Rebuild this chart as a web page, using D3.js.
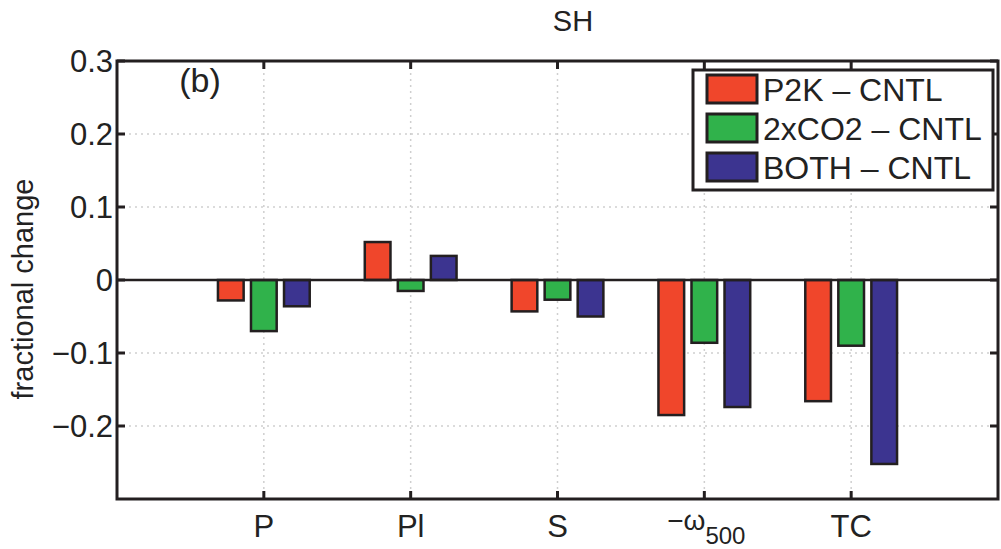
<!DOCTYPE html>
<html>
<head>
<meta charset="utf-8">
<script src="https://cdn.jsdelivr.net/npm/d3@7"></script>
<style>
  body { margin: 0; background: #fff; }
  text { font-family: "Liberation Sans", Arial, sans-serif; fill: #222; }
</style>
</head>
<body>
<svg id="chart" width="1001" height="549"></svg>
<script>
// values
const categories = ["P", "Pl", "S", "w500", "TC"];
const seriesNames = ["P2K \u2013 CNTL", "2xCO2 \u2013 CNTL", "BOTH \u2013 CNTL"];
const p2k  = [-0.028, 0.052, -0.043, -0.185, -0.166];
const co2  = [-0.070, -0.015, -0.027, -0.086, -0.090];
const both = [-0.036, 0.033, -0.050, -0.174, -0.252];
const yTicks = [0.3, 0.2, 0.1, 0, -0.1, -0.2];
const colors = ["#f0462b", "#30b24b", "#3c3490"];

const series = [p2k, co2, both];

const svg = d3.select("#chart");
const pLeft = 117, pRight = 998, pTop = 61, pBottom = 499;

const x = d3.scaleLinear().domain([0, 6]).range([pLeft, pRight]);
const y = d3.scaleLinear().domain([-0.3, 0.3]).range([pBottom, pTop]);
const off = d3.scaleLinear().domain([0, 2]).range([-0.225, 0.225]);
const bw = 0.175;

// grid
const grid = svg.append("g").attr("stroke", "#cfcfcf").attr("stroke-width", 1.5)
  .attr("stroke-dasharray", "2,4");
grid.selectAll(".gx").data(d3.range(1, 6)).enter().append("line")
  .attr("x1", d => x(d)).attr("x2", d => x(d)).attr("y1", pTop).attr("y2", pBottom);
grid.selectAll(".gy").data(yTicks).enter().append("line")
  .attr("x1", pLeft).attr("x2", pRight).attr("y1", d => y(d)).attr("y2", d => y(d));

// bars
series.forEach(function(vals, s) {
  svg.append("g").selectAll("rect").data(vals).enter().append("rect")
    .attr("x", (d, i) => x(i + 1 + off(s) - bw / 2))
    .attr("width", x(bw) - x(0))
    .attr("y", d => y(Math.max(0, d)))
    .attr("height", d => Math.abs(y(d) - y(0)))
    .attr("fill", colors[s])
    .attr("stroke", "#231f20").attr("stroke-width", 2.5);
});

// zero line
svg.append("line").attr("x1", pLeft).attr("x2", pRight).attr("y1", y(0)).attr("y2", y(0))
  .attr("stroke", "#231f20").attr("stroke-width", 2.5);

// axes box with inward ticks
const tl = 8;
const ax = svg.append("g").attr("stroke", "#231f20").attr("stroke-width", 3);
ax.append("rect").attr("x", pLeft).attr("y", pTop).attr("width", pRight - pLeft).attr("height", pBottom - pTop)
  .attr("fill", "none");
d3.range(1, 6).forEach(function(i) {
  ax.append("line").attr("x1", x(i)).attr("x2", x(i)).attr("y1", pBottom).attr("y2", pBottom - tl);
  ax.append("line").attr("x1", x(i)).attr("x2", x(i)).attr("y1", pTop).attr("y2", pTop + tl);
});
yTicks.forEach(function(v) {
  ax.append("line").attr("x1", pLeft).attr("x2", pLeft + tl).attr("y1", y(v)).attr("y2", y(v));
  ax.append("line").attr("x1", pRight).attr("x2", pRight - tl).attr("y1", y(v)).attr("y2", y(v));
});

// y tick labels
svg.append("g").selectAll("text").data(yTicks).enter().append("text")
  .attr("x", pLeft - 4).attr("y", d => y(d) + 11)
  .attr("text-anchor", "end").attr("font-size", 31)
  .text(d => d === 0 ? "0" : (d < 0 ? "\u2212" : "") + Math.abs(d).toFixed(1));

// x tick labels
categories.forEach(function(c, i) {
  const t = svg.append("text").attr("x", x(i + 1)).attr("y", 537)
    .attr("text-anchor", "middle").attr("font-size", 31);
  if (c === "w500") {
    t.attr("x", x(i + 1) + 2).attr("y", 530);
    t.append("tspan").attr("font-size", 28).text("\u2212\u03c9");
    t.append("tspan").attr("dy", 14).attr("font-size", 24).text("500");
  } else {
    t.text(c);
  }
});

// title and labels
svg.append("text").attr("x", 573).attr("y", 31).attr("text-anchor", "middle")
  .attr("font-size", 29).text("SH");
svg.append("text").attr("x", 200).attr("y", 92).attr("text-anchor", "middle")
  .attr("font-size", 34).text("(b)");
svg.append("text").attr("transform", "translate(33,289) rotate(-90)")
  .attr("text-anchor", "middle").attr("font-size", 29).text("fractional change");

// legend
const lg = svg.append("g");
lg.append("rect").attr("x", 693).attr("y", 70).attr("width", 300).attr("height", 120)
  .attr("fill", "#fff").attr("stroke", "#231f20").attr("stroke-width", 3);
seriesNames.forEach(function(n, i) {
  const cy = 89 + i * 39;
  lg.append("rect").attr("x", 707).attr("y", cy - 14).attr("width", 50).attr("height", 28)
    .attr("fill", colors[i]).attr("stroke", "#231f20").attr("stroke-width", 3);
  lg.append("text").attr("x", 763).attr("y", cy + 12).attr("font-size", 32).text(n);
});
</script>
</body>
</html>
